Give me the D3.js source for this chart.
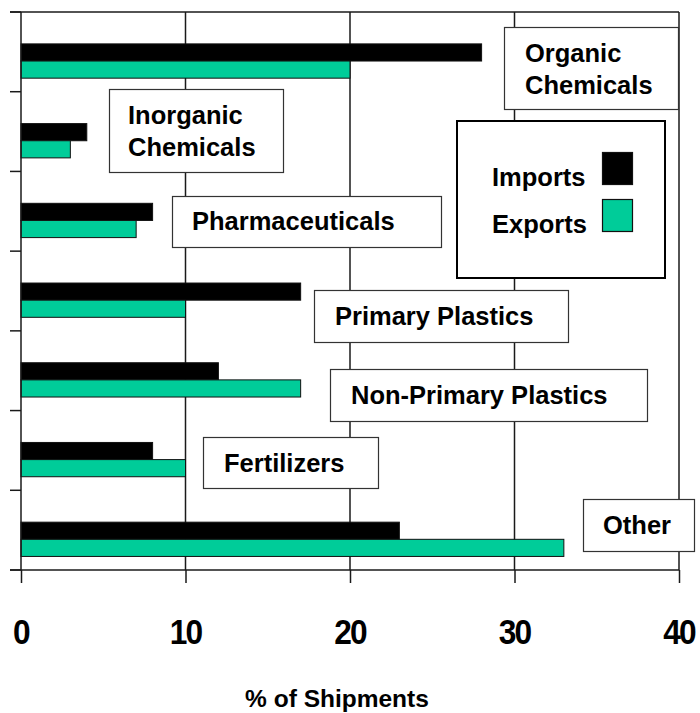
<!DOCTYPE html>
<html>
<head>
<meta charset="utf-8">
<script src="https://cdn.jsdelivr.net/npm/d3@7"></script>
<style>
  body { margin: 0; background: #fff; }
  svg text { font-family: "Liberation Sans", Arial, sans-serif; font-weight: bold; fill: #000; }
</style>
</head>
<body>
<svg width="700" height="713"></svg>
<script>
var svg = d3.select("svg");

// data
var categories = ["Organic Chemicals", "Inorganic Chemicals", "Pharmaceuticals",
  "Primary Plastics", "Non-Primary Plastics", "Fertilizers", "Other"];
var imports = [28, 4, 8, 17, 12, 8, 23];
var exports = [20, 3, 7, 10, 17, 10, 33];
var series = ["Imports", "Exports"];
var xTicks = [0, 10, 20, 30, 40];
var axisTitle = "% of Shipments";

var colors = { Imports: "#000000", Exports: "#00cc99" };

var plotLeft = 21, plotRight = 679, plotTop = 12, plotBottom = 570;
var lineColor = "#1a1a1a";

var x = d3.scaleLinear().domain([0, 40]).range([plotLeft, plotRight]);
var y = d3.scaleBand().domain(categories).range([plotTop, plotBottom]);
var step = y.step();
var yInner = d3.scaleBand().domain(series).range([step * 0.4, step * 0.83]);

var rows = categories.map(function(c, i) {
  return { cat: c, Imports: imports[i], Exports: exports[i] };
});

// grid / frame
var grid = svg.append("g").attr("stroke", lineColor).attr("stroke-width", 1.5);
grid.selectAll("line.v")
  .data(xTicks.slice(1))
  .enter().append("line")
  .attr("x1", function(d) { return x(d); })
  .attr("x2", function(d) { return x(d); })
  .attr("y1", plotTop)
  .attr("y2", plotBottom);
grid.append("line").attr("x1", plotLeft - 11).attr("x2", plotRight).attr("y1", plotTop).attr("y2", plotTop);

// bars
var groups = svg.append("g").selectAll("g")
  .data(rows)
  .enter().append("g")
  .attr("transform", function(d) { return "translate(0," + y(d.cat) + ")"; });

groups.selectAll("rect")
  .data(function(d) { return series.map(function(s) { return { s: s, v: d[s] }; }); })
  .enter().append("rect")
  .attr("x", x(0))
  .attr("y", function(d) { return yInner(d.s); })
  .attr("width", function(d) { return x(d.v) - x(0); })
  .attr("height", yInner.bandwidth())
  .attr("fill", function(d) { return colors[d.s]; })
  .attr("stroke", "#111")
  .attr("stroke-width", 1);

// left ticks at band boundaries
svg.append("g").selectAll("line")
  .data(d3.range(categories.length + 1))
  .enter().append("line")
  .attr("x1", plotLeft - 11).attr("x2", plotLeft)
  .attr("y1", function(i) { return plotTop + i * step; })
  .attr("y2", function(i) { return plotTop + i * step; })
  .attr("stroke", lineColor).attr("stroke-width", 1.5);

svg.append("line").attr("x1", plotLeft).attr("x2", plotLeft).attr("y1", plotTop).attr("y2", plotBottom)
  .attr("stroke", lineColor).attr("stroke-width", 1.5);

var xAxis = d3.axisBottom(x).tickValues(xTicks).tickSize(13).tickFormat("");
var xg = svg.append("g").attr("transform", "translate(0," + plotBottom + ")").call(xAxis);
xg.select(".domain").attr("d", "M" + (plotLeft - 11) + ",0H" + plotRight).attr("stroke", lineColor).attr("stroke-width", 1.5);
xg.selectAll(".tick line").attr("stroke", lineColor).attr("stroke-width", 1.5);

svg.append("g").selectAll("text")
  .data(xTicks)
  .enter().append("text")
  .attr("transform", function(d) { return "translate(" + x(d) + ",644) scale(0.88,1)"; })
  .attr("text-anchor", "middle")
  .attr("font-size", 36)
  .attr("letter-spacing", -2)
  .text(function(d) { return d; });

svg.append("text")
  .attr("x", 337).attr("y", 707)
  .attr("text-anchor", "middle")
  .attr("font-size", 24.5)
  .text(axisTitle);

// category label boxes (annotation placement)
var labelBoxes = [
  { cat: "Organic Chemicals", lines: ["Organic", "Chemicals"], box: [504, 27, 678, 109], tx: 525, ty: [62, 94] },
  { cat: "Inorganic Chemicals", lines: ["Inorganic", "Chemicals"], box: [109, 89, 283, 172], tx: 128, ty: [124, 156] },
  { cat: "Pharmaceuticals", lines: ["Pharmaceuticals"], box: [172, 196, 441, 247], tx: 192, ty: [230] },
  { cat: "Primary Plastics", lines: ["Primary Plastics"], box: [314, 290, 568, 342], tx: 335, ty: [325] },
  { cat: "Non-Primary Plastics", lines: ["Non-Primary Plastics"], box: [330, 369, 647, 421], tx: 351, ty: [404] },
  { cat: "Fertilizers", lines: ["Fertilizers"], box: [203, 437, 378, 488], tx: 224, ty: [472] },
  { cat: "Other", lines: ["Other"], box: [583, 499, 694, 551], tx: 603, ty: [534] }
];

var lb = svg.append("g").selectAll("g").data(labelBoxes).enter().append("g");
lb.append("rect")
  .attr("x", function(d) { return d.box[0] + 0.5; })
  .attr("y", function(d) { return d.box[1] + 0.5; })
  .attr("width", function(d) { return d.box[2] - d.box[0]; })
  .attr("height", function(d) { return d.box[3] - d.box[1]; })
  .attr("fill", "#fff")
  .attr("stroke", "#333")
  .attr("stroke-width", 1.2);
lb.each(function(d) {
  var g = d3.select(this);
  d.lines.forEach(function(t, i) {
    g.append("text").attr("x", d.tx).attr("y", d.ty[i]).attr("font-size", 25.5).text(t);
  });
});

// legend
var legend = svg.append("g");
legend.append("rect")
  .attr("x", 457).attr("y", 121).attr("width", 208).attr("height", 157)
  .attr("fill", "#fff").attr("stroke", "#000").attr("stroke-width", 2);
var legY = { Imports: 186, Exports: 233 };
series.forEach(function(s) {
  legend.append("text").attr("x", 492).attr("y", legY[s]).attr("font-size", 25.5).text(s);
  legend.append("rect")
    .attr("x", 602.5).attr("y", legY[s] - 33.5).attr("width", 30).attr("height", 32)
    .attr("fill", colors[s]).attr("stroke", "#111").attr("stroke-width", 1.2);
});
</script>
</body>
</html>
